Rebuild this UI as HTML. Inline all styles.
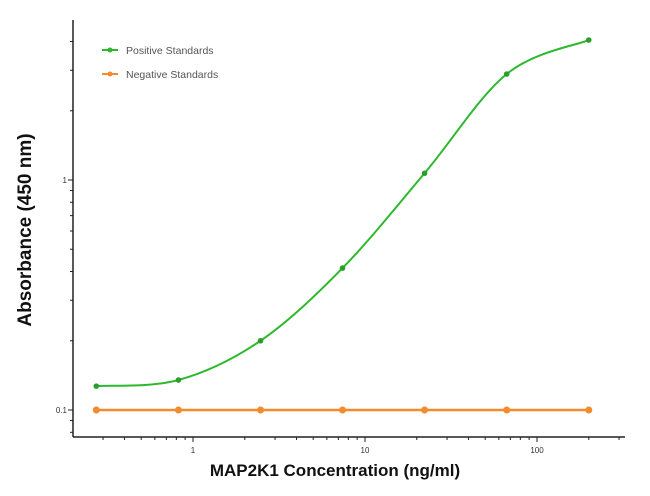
<!DOCTYPE html>
<html><head><meta charset="utf-8"><style>
body{margin:0;background:#fff}
svg{display:block;font-family:"Liberation Sans",Arial,sans-serif}
</style></head><body>
<svg width="650" height="496">
<g id="axes"></g><g id="series"></g>
<text x="0" y="0" transform="translate(31,230) rotate(-90)" text-anchor="middle" font-size="19" font-weight="bold" fill="#111">Absorbance (450 nm)</text>
<text x="335" y="476" text-anchor="middle" font-size="17" font-weight="bold" fill="#111">MAP2K1 Concentration (ng/ml)</text>
<g font-size="10.5" fill="#555">
<g><line x1="102" y1="50" x2="118" y2="50" stroke="#2db82d" stroke-width="2"/><circle cx="110" cy="50" r="2.5" fill="#2db82d"/><text x="126" y="54">Positive Standards</text></g>
<g><line x1="102" y1="74" x2="118" y2="74" stroke="#f28a2e" stroke-width="2"/><circle cx="110" cy="74" r="2.5" fill="#f28a2e"/><text x="126" y="78">Negative Standards</text></g>
</g>
</svg>
<script>
const conc=[0.274,0.823,2.47,7.4,22.2,66.7,200];
const positive=[0.127,0.135,0.2,0.414,1.07,2.89,4.06];
const negative=[0.1,0.1,0.1,0.1,0.1,0.1,0.1];
const xTicks=[1,10,100];
const yTicks=[0.1,1];
const NS='http://www.w3.org/2000/svg';
const X0=73,X1=625,Y0=437,Y1=20;
function xs(v){return 193+Math.log10(v)*172;}
function ys(v){return 180-Math.log10(v)*230;}
function mk(t,a,p){const e=document.createElementNS(NS,t);for(const k in a)e.setAttribute(k,a[k]);p.appendChild(e);return e;}
const ax=document.getElementById('axes');
const yl=mk('line',{x1:X0,y1:Y1,x2:X0,y2:Y0,stroke:'#222','stroke-width':1.5},ax);


const xl=mk('line',{x1:X0,y1:Y0,x2:X1,y2:Y0,stroke:'#222','stroke-width':1.5},ax);


for(let d=-1;d<=2;d++)for(let m=1;m<10;m++){const v=m*Math.pow(10,d);const x=xs(v);if(x<X0||x>X1)continue;
 mk('line',{x1:x,y1:Y0,x2:x,y2:Y0+(m==1?5:3),stroke:'#222'},ax);}
for(let d=-2;d<=0;d++)for(let m=1;m<10;m++){const v=m*Math.pow(10,d);const y=ys(v);if(y<Y1||y>Y0)continue;
 mk('line',{x1:X0,y1:y,x2:X0-(m==1?5:3),y2:y,stroke:'#222'},ax);}
xTicks.forEach(v=>{const t=mk('text',{x:xs(v),y:Y0+16,'text-anchor':'middle','font-size':8,fill:'#333'},ax);t.textContent=v;
 
 });
yTicks.forEach(v=>{const t=mk('text',{x:X0-6,y:ys(v)+3,'text-anchor':'end','font-size':8,fill:'#333'},ax);t.textContent=v;
 
 });
const sg=document.getElementById('series');
function curve(vals){const P=conc.map((c,i)=>[xs(c),ys(vals[i])]);let d='M'+P[0][0]+','+P[0][1];
 for(let i=0;i<P.length-1;i++){const p0=P[i-1]||P[i],p1=P[i],p2=P[i+1],p3=P[i+2]||P[i+1];
 d+=' C'+(p1[0]+(p2[0]-p0[0])/6)+','+(p1[1]+(p2[1]-p0[1])/6)+' '+(p2[0]-(p3[0]-p1[0])/6)+','+(p2[1]-(p3[1]-p1[1])/6)+' '+p2[0]+','+p2[1];}
 return d;}
const pn=mk('path',{d:curve(negative),fill:'none',stroke:'#f28a2e','stroke-width':2.5},sg);


negative.forEach((v,i)=>{const c=mk('circle',{cx:xs(conc[i]),cy:ys(v),r:3.5,fill:'#f28a2e'},sg);
 
 });
const pp=mk('path',{d:curve(positive),fill:'none',stroke:'#2db82d','stroke-width':2},sg);


positive.forEach((v,i)=>{const c=mk('circle',{cx:xs(conc[i]),cy:ys(v),r:2.8,fill:'#2a9d2a'},sg);
 
 });
</script>
</body></html>
